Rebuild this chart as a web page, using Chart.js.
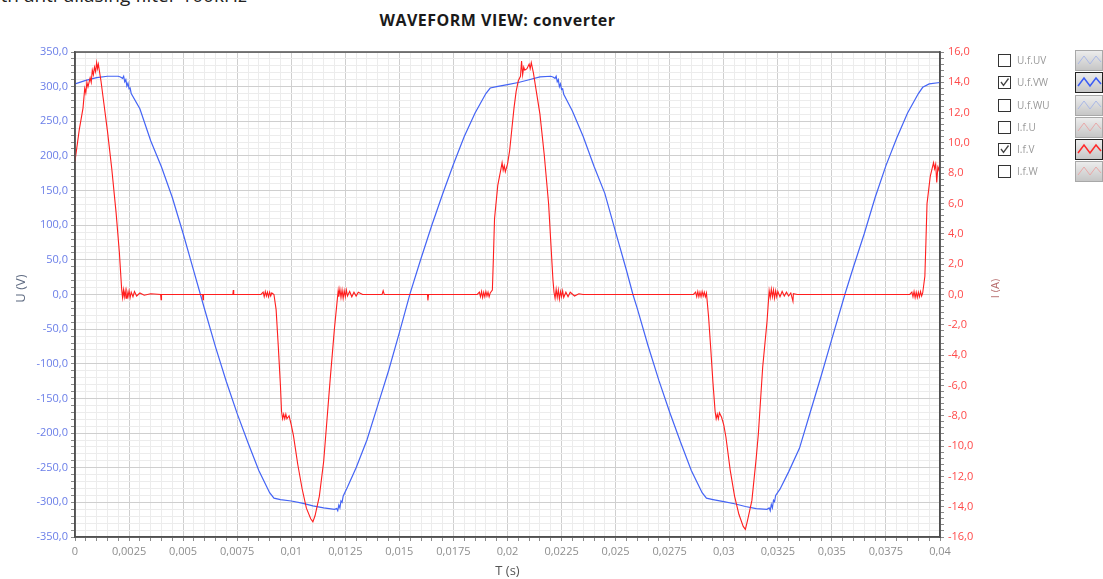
<!DOCTYPE html>
<html>
<head>
<meta charset="utf-8">
<title>WAVEFORM VIEW: converter</title>
<script src="https://cdn.jsdelivr.net/npm/chart.js@4.4.1/dist/chart.umd.min.js"></script>
<style>
  body { margin: 0; background: #fff; }
  #wrap { position: relative; width: 1103px; height: 579px; overflow: hidden; font-family: 'Open Sans', sans-serif; }
  .cut { position: absolute; left: -19px; top: -14px; font-size: 19px; line-height: 19px; color: #222; white-space: nowrap; }
  .title { position: absolute; left: 0; top: 10px; width: 995px; text-align: center; font-size: 16px; line-height: 20px; letter-spacing: 0.5px; font-weight: bold; color: #1a1a1a; }
  #plot { position: absolute; left: 0; top: 0; }
  #legend { position: absolute; left: 997px; top: 50px; width: 106px; }
  .row { position: relative; height: 22.3px; }
  .box { position: absolute; left: 1px; top: 4px; width: 11px; height: 11px; border: 1.5px solid #333; background: #fff; }
  .lbl { position: absolute; left: 20px; top: 3px; font-size: 10px; line-height: 14px; color: #999; }
  .ico { position: absolute; left: 78px; top: 0; width: 26px; height: 19px; border: 1px solid #a8a8a8; background: linear-gradient(#ececec, #c6c6c6); }
  .ico.on { border: 1.5px solid #222; }
</style>
</head>
<body>
<div id="wrap">
  <div class="cut">with anti-aliasing filter 100kHz</div>
  <div class="title">WAVEFORM VIEW: converter</div>
  <canvas id="plot" width="1000" height="579"></canvas>
  <div id="legend"></div>
</div>
<script>
// U.f.VW line voltage, [time s, volts]
const uvwPoints = [
  [0, 304], [0.0005, 309], [0.001, 313], [0.0015, 315], [0.002, 315], [0.0021, 314],
  [0.0022, 312], [0.00225, 315], [0.0023, 307], [0.00235, 310], [0.0024, 301], [0.00245, 305],
  [0.0025, 297], [0.00255, 298], [0.0026, 290], [0.003, 268], [0.0035, 222], [0.004, 184],
  [0.0045, 140], [0.005, 88], [0.0055, 33], [0.0058, 0], [0.006, -22], [0.0065, -76],
  [0.007, -126], [0.0075, -172], [0.008, -214], [0.0085, -254], [0.009, -286], [0.0092, -294],
  [0.0095, -296], [0.01, -298], [0.0105, -301], [0.011, -305], [0.0115, -308], [0.012, -310],
  [0.0121, -309], [0.01215, -312], [0.0122, -304], [0.01225, -308], [0.0123, -298], [0.01235, -300],
  [0.0124, -291], [0.0126, -278], [0.013, -250], [0.0135, -210], [0.014, -160], [0.0145, -110],
  [0.015, -55], [0.0155, 2], [0.016, 52], [0.0165, 100], [0.017, 145], [0.0175, 188],
  [0.018, 228], [0.0185, 262], [0.019, 290], [0.0192, 298], [0.0195, 300], [0.02, 303],
  [0.0205, 306], [0.021, 310], [0.0215, 314], [0.022, 315], [0.0221, 314], [0.0222, 312],
  [0.02225, 315], [0.0223, 307], [0.02235, 310], [0.0224, 300], [0.02245, 304], [0.0225, 296],
  [0.02255, 297], [0.0226, 289], [0.023, 265], [0.0235, 228], [0.024, 185], [0.0245, 146],
  [0.025, 90], [0.0255, 35], [0.0258, 0], [0.026, -20], [0.0265, -74], [0.027, -124],
  [0.0275, -170], [0.028, -213], [0.0285, -254], [0.029, -286], [0.0292, -294], [0.0295, -296],
  [0.03, -299], [0.0305, -302], [0.031, -306], [0.0315, -309], [0.032, -310], [0.0321, -308],
  [0.03215, -312], [0.0322, -303], [0.03225, -308], [0.0323, -297], [0.03235, -299], [0.0324, -290],
  [0.0326, -281], [0.033, -256], [0.0335, -222], [0.034, -170], [0.0345, -118], [0.035, -64],
  [0.0356, 0], [0.036, 40], [0.0365, 88], [0.037, 140], [0.0375, 186], [0.038, 226],
  [0.0385, 262], [0.039, 290], [0.0392, 299], [0.0395, 304], [0.04, 306]
];

// I.f.V phase current, [time s, amps]
const ivPoints = [
  [0, 8.8], [0.0002, 10.9], [0.00037, 12.3], [0.00045, 13.6], [0.0005, 13.3], [0.00055, 14.0],
  [0.0006, 13.7], [0.0007, 14.3], [0.00075, 14.0], [0.0008, 14.8], [0.00085, 14.5], [0.0009, 15.0],
  [0.00095, 14.7], [0.001, 15.3], [0.00104, 14.9], [0.00108, 15.2], [0.0012, 14.1], [0.0013, 13.0],
  [0.0015, 10.8], [0.0017, 8.3], [0.0019, 5.4], [0.00205, 2.8], [0.00216, 0.3], [0.0022, -0.2],
  [0.00224, 0.3], [0.00228, -0.15], [0.00232, 0.25], [0.00236, -0.25], [0.0024, 0.2], [0.00245, -0.15],
  [0.0025, 0.25], [0.00255, -0.2], [0.0026, 0.15], [0.00268, -0.15], [0.00275, 0.2], [0.00285, -0.1],
  [0.003, 0.1], [0.0032, -0.05], [0.0035, 0.05], [0.00396, 0], [0.00398, -0.35], [0.004, 0],
  [0.0059, 0], [0.00592, -0.35], [0.00594, 0], [0.0073, 0], [0.00732, 0.3], [0.00734, 0],
  [0.0086, 0], [0.0087, 0.15], [0.00875, -0.15], [0.0088, 0.2], [0.00885, -0.1], [0.0089, 0.15],
  [0.00895, -0.15], [0.009, 0.15], [0.00905, -0.1], [0.0091, 0.1], [0.0092, 0], [0.0093, -1.0],
  [0.0094, -3.4], [0.0095, -6.0], [0.00955, -7.7], [0.0096, -8.2], [0.00965, -7.9], [0.0097, -8.2],
  [0.00975, -7.9], [0.0098, -8.2], [0.0099, -8.0], [0.01, -8.6], [0.0101, -9.3], [0.0103, -11.2],
  [0.0105, -12.8], [0.0107, -14.1], [0.0109, -14.8], [0.011, -15.0], [0.0111, -14.6], [0.0113, -13.3],
  [0.0115, -11.0], [0.0116, -9.2], [0.0118, -5.6], [0.012, -2.2], [0.01217, 0.25], [0.0122, -0.15],
  [0.01225, 0.35], [0.0123, -0.2], [0.01235, 0.3], [0.0124, -0.25], [0.01245, 0.25], [0.0125, -0.15],
  [0.01255, 0.3], [0.0126, -0.1], [0.0127, 0.2], [0.0128, -0.15], [0.0129, 0.15], [0.013, -0.1],
  [0.0131, 0.15], [0.0133, 0], [0.0142, 0], [0.01425, 0.25], [0.0143, 0], [0.0163, 0],
  [0.01632, -0.4], [0.01635, 0], [0.0186, 0], [0.0187, 0.15], [0.01875, -0.15], [0.0188, 0.2],
  [0.01885, -0.2], [0.0189, 0.15], [0.01895, -0.15], [0.019, 0.2], [0.01905, -0.1], [0.0191, 0.15],
  [0.01915, -0.15], [0.0192, 0.1], [0.0193, 0.3], [0.01935, 2.5], [0.0194, 5.0], [0.01955, 7.2],
  [0.0197, 8.3], [0.01975, 8.7], [0.0198, 8.2], [0.01985, 8.5], [0.0199, 8.1], [0.02, 8.6],
  [0.0201, 9.5], [0.0202, 10.9], [0.0203, 12.3], [0.0204, 13.4], [0.0205, 14.1], [0.0206, 14.4],
  [0.02065, 15.4], [0.0207, 14.5], [0.02075, 15.0], [0.0208, 14.8], [0.0209, 14.9], [0.021, 15.2],
  [0.02105, 14.9], [0.0211, 15.3], [0.0212, 14.6], [0.0213, 13.7], [0.0215, 11.9], [0.0217, 9.2],
  [0.0219, 6.0], [0.0221, 1.0], [0.02215, 0.15], [0.0222, -0.25], [0.02225, 0.35], [0.0223, -0.2],
  [0.02235, 0.3], [0.0224, -0.3], [0.02245, 0.2], [0.0225, -0.15], [0.02255, 0.25], [0.0226, -0.2],
  [0.0227, 0.15], [0.0228, -0.15], [0.0229, 0.15], [0.0231, -0.1], [0.0233, 0.05], [0.0235, 0],
  [0.0286, 0], [0.0287, 0.15], [0.02875, -0.15], [0.0288, 0.2], [0.02885, -0.15], [0.0289, 0.15],
  [0.02895, -0.15], [0.029, 0.2], [0.02905, -0.1], [0.0291, 0.15], [0.02915, -0.15], [0.0292, 0.1],
  [0.0293, -1.5], [0.0294, -3.6], [0.0295, -5.8], [0.0296, -7.7], [0.02965, -8.2], [0.0297, -7.9],
  [0.02975, -8.2], [0.0298, -7.8], [0.0299, -8.1], [0.03, -8.6], [0.0301, -9.4], [0.0303, -11.6],
  [0.0305, -13.3], [0.0307, -14.5], [0.0309, -15.3], [0.031, -15.5], [0.0311, -14.9], [0.0313, -13.6],
  [0.0315, -10.8], [0.0316, -9.2], [0.0318, -4.8], [0.032, -1.8], [0.0321, 0.25], [0.03215, -0.2],
  [0.0322, 0.35], [0.03225, -0.15], [0.0323, 0.3], [0.03235, -0.25], [0.0324, 0.25], [0.03245, -0.15],
  [0.0325, 0.2], [0.0326, -0.15], [0.0327, 0.2], [0.0328, -0.1], [0.0329, 0.15], [0.033, -0.1],
  [0.0331, 0.1], [0.0332, -0.45], [0.03322, 0.05], [0.0334, 0], [0.0386, 0], [0.0387, 0.15],
  [0.03875, -0.15], [0.0388, 0.2], [0.03885, -0.2], [0.0389, 0.15], [0.03895, -0.2], [0.039, 0.15],
  [0.03905, -0.15], [0.0391, 0.2], [0.03915, -0.1], [0.0392, 0.1], [0.0393, 1.2], [0.03935, 3.5],
  [0.0394, 6.0], [0.03955, 7.8], [0.0397, 8.7], [0.03975, 8.3], [0.0398, 8.6], [0.03985, 7.4],
  [0.0399, 8.4], [0.03995, 8.2], [0.04, 8.9]
];

// axis ranges and steps
const timeRange = [0, 0.04];
const voltRange = [-350, 350];
const ampRange = [-16, 16];
const timeStep = 0.0005, timeLabelStep = 0.0025;
const voltStep = 10, voltLabelStep = 50;
const ampStep = 0.4, ampLabelStep = 2;

// channel list on the right
const legendNames = ['U.f.UV', 'U.f.VW', 'U.f.WU', 'I.f.U', 'I.f.V', 'I.f.W'];
const legendOn = [false, true, false, false, true, false];
const legendColors = ['#aab8e6', '#3a5cf5', '#aab8e6', '#e8a8a8', '#ff2a2a', '#e8a8a8'];

const isMajor = (v, step) => Math.abs(v / step - Math.round(v / step)) < 1e-6;
const comma = s => s.replace('.', ',');

const legend = document.getElementById('legend');
legendNames.forEach((name, k) => {
  const row = document.createElement('div');
  row.className = 'row';
  const tick = legendOn[k]
    ? '<svg width="11" height="11" style="position:absolute;left:0;top:0"><polyline points="2,5 4.5,8.5 9.5,1.5" fill="none" stroke="#444" stroke-width="1.3"/></svg>'
    : '';
  row.innerHTML =
    '<div class="box">' + tick + '</div>' +
    '<div class="lbl">' + name + '</div>' +
    '<div class="ico' + (legendOn[k] ? ' on' : '') + '">' +
    '<svg width="26" height="19"><polyline points="2,13 8,5 14,13 20,5 25,11" fill="none" stroke="' +
    legendColors[k] + '" stroke-width="' + (legendOn[k] ? 1.5 : 1) + '"/></svg></div>';
  legend.appendChild(row);
});

const toXY = pts => pts.map(p => ({ x: p[0], y: p[1] }));

// light minor grid, darker every labelled step
const gridColor = step => ctx => (ctx.tick && isMajor(ctx.tick.value, step)) ? '#cfcfcf' : '#ececec';

// dark frame around the plot area
const frame = {
  id: 'frame',
  afterDatasetsDraw(chart) {
    const a = chart.chartArea, c = chart.ctx;
    c.save();
    c.strokeStyle = '#505050';
    c.lineWidth = 1.5;
    c.strokeRect(a.left, a.top, a.right - a.left, a.bottom - a.top);
    c.restore();
  }
};

// vertical axis names, both read bottom to top
const sideTitles = {
  id: 'sideTitles',
  afterDraw(chart) {
    const c = chart.ctx;
    const mid = (chart.chartArea.top + chart.chartArea.bottom) / 2;
    const put = (text, x, color, size) => {
      c.save();
      c.translate(x, mid - 6);
      c.rotate(-Math.PI / 2);
      c.font = size + 'px "Open Sans"';
      c.fillStyle = color;
      c.textAlign = 'center';
      c.textBaseline = 'middle';
      c.fillText(text, 0, 0);
      c.restore();
    };
    put('U (V)', 21, '#5f6b82', 13);
    put('I (A)', 996, '#b76c6c', 11);
  }
};

const tickFont = { family: 'Open Sans', size: 11 };

new Chart(document.getElementById('plot'), {
  type: 'line',
  data: {
    datasets: [{
      label: 'U.f.VW',
      data: toXY(uvwPoints),
      yAxisID: 'yU',
      borderColor: 'rgb(68, 100, 245)',
      borderWidth: 1.2,
      pointRadius: 0,
      tension: 0,
      order: 1
    }, {
      label: 'I.f.V',
      data: toXY(ivPoints),
      yAxisID: 'yI',
      borderColor: 'rgb(255, 30, 30)',
      borderWidth: 1.1,
      pointRadius: 0,
      tension: 0,
      order: 0
    }]
  },
  options: {
    responsive: false,
    animation: false,
    layout: { padding: { top: 52, left: 0, right: 0, bottom: 0 } },
    plugins: { legend: { display: false }, tooltip: { enabled: false } },
    scales: {
      x: {
        type: 'linear',
        min: timeRange[0], max: timeRange[1],
        afterFit: s => { s.height = 42; },
        grid: { color: gridColor(timeLabelStep), tickColor: '#8a8a8a', tickLength: 4 },
        border: { color: '#505050', width: 1.5 },
        ticks: {
          stepSize: timeStep, autoSkip: false, maxRotation: 0, padding: 4,
          color: '#8e8e8e', font: tickFont,
          callback: v => isMajor(v, timeLabelStep) ? comma(String(parseFloat(v.toFixed(5)))) : ''
        },
        title: { display: true, text: 'T (s)', color: '#555', font: { family: 'Open Sans', size: 13 }, padding: 0 }
      },
      yU: {
        type: 'linear', position: 'left',
        min: voltRange[0], max: voltRange[1],
        afterFit: s => { s.width = 75; },
        grid: { color: gridColor(voltLabelStep), tickColor: '#8a8a8a', tickLength: 4 },
        border: { color: '#505050', width: 1.5 },
        ticks: {
          stepSize: voltStep, autoSkip: false, padding: 3,
          color: '#6a7ee8', font: tickFont,
          callback: v => isMajor(v, voltLabelStep) ? comma(v.toFixed(1)) : ''
        }
      },
      yI: {
        type: 'linear', position: 'right',
        min: ampRange[0], max: ampRange[1],
        afterFit: s => { s.width = 60; },
        grid: { drawOnChartArea: false, tickColor: '#8a8a8a', tickLength: 4 },
        border: { color: '#505050', width: 1.5 },
        ticks: {
          stepSize: ampStep, autoSkip: false, padding: 4,
          color: '#ff4a4a', font: tickFont,
          callback: v => isMajor(v, ampLabelStep) ? comma(v.toFixed(1)) : ''
        }
      }
    }
  },
  plugins: [frame, sideTitles]
});
</script>
</body>
</html>
